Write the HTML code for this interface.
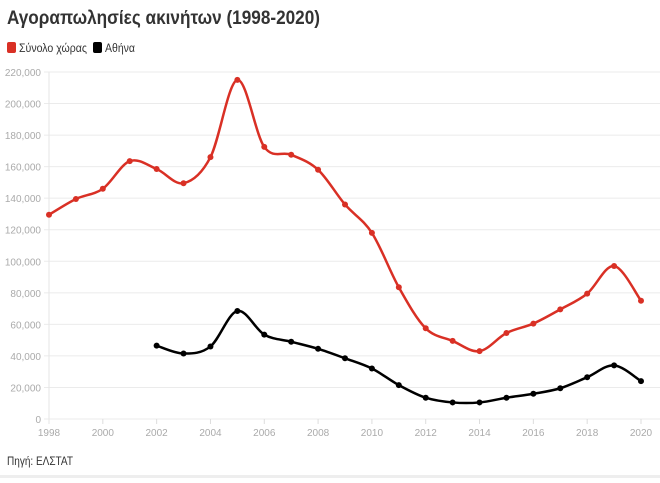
<!DOCTYPE html>
<html><head><meta charset="utf-8"><style>
body{margin:0;background:#fff;width:660px;height:478px;overflow:hidden;font-family:"Liberation Sans","DejaVu Sans",sans-serif}
</style></head><body>
<svg id="s" width="660" height="478" xmlns="http://www.w3.org/2000/svg" font-family="Liberation Sans, DejaVu Sans, sans-serif">
<text x="7" y="24" font-size="19" font-weight="bold" fill="#333" textLength="313" lengthAdjust="spacingAndGlyphs">Αγοραπωλησίες ακινήτων (1998-2020)</text>
<rect x="7" y="42" width="9" height="11" rx="2" fill="#d93025"/>
<text x="19" y="52" font-size="12" fill="#333" textLength="68" lengthAdjust="spacingAndGlyphs">Σύνολο χώρας</text>
<rect x="93" y="42" width="9" height="11" rx="2" fill="#000"/>
<text x="105" y="52" font-size="12" fill="#333" textLength="30" lengthAdjust="spacingAndGlyphs">Αθήνα</text>
<g id="grid"></g>
<line x1="49" y1="72" x2="49" y2="424" stroke="#e6e6e6"/>
<g id="series"></g>
<text x="7" y="465" font-size="12" fill="#333" textLength="66" lengthAdjust="spacingAndGlyphs">Πηγή: ΕΛΣΤΑΤ</text>
<rect x="0" y="475" width="660" height="3" fill="#eee"/>
</svg>
<script>
var ns="http://www.w3.org/2000/svg",g=document.getElementById('grid'),se=document.getElementById('series');
function X(y){return 49+(y-1998)*592/22}function Y(v){return 419-v*347/220000}
function el(t,a,p,txt){var e=document.createElementNS(ns,t);for(var k in a)e.setAttribute(k,a[k]);if(txt)e.textContent=txt;p.appendChild(e);return e}
for(var v=0;v<=220000;v+=20000){var y=Y(v);el('line',{x1:44,x2:660,y1:y,y2:y,stroke:'#ebebeb'},g);el('text',{x:41,y:y+4,'font-size':10,fill:'#aaa','text-anchor':'end'},g,v.toLocaleString('en-US'));}
for(var yr=1998;yr<=2020;yr+=2){el('line',{x1:X(yr),x2:X(yr),y1:419,y2:424,stroke:'#ddd'},g);el('text',{x:X(yr),y:436,'font-size':10,fill:'#aaa','text-anchor':'middle'},g,yr);}
var red=[129.5,139.5,146,163.5,158.5,149.5,166,215,172.5,167.5,158,136,118,83.5,57.5,49.5,43,54.5,60.5,69.5,79.5,97,75];
var blk=[46.5,41.5,46,68.5,53.5,49,44.5,38.5,32,21.5,13.5,10.5,10.5,13.5,16,19.5,26.5,34,24];
function draw(d,start,c){var p=d.map(function(v,i){return[X(start+i),Y(v*1000)]});
var s='M'+p[0][0]+','+p[0][1];for(var i=0;i<p.length-1;i++){var p0=p[i-1]||p[i],p1=p[i],p2=p[i+1],p3=p[i+2]||p2;
s+='C'+(p1[0]+(p2[0]-p0[0])/6)+','+(p1[1]+(p2[1]-p0[1])/6)+' '+(p2[0]-(p3[0]-p1[0])/6)+','+(p2[1]-(p3[1]-p1[1])/6)+' '+p2[0]+','+p2[1];}
el('path',{d:s,fill:'none',stroke:c,'stroke-width':2.5},se);p.forEach(function(q){el('circle',{cx:q[0],cy:q[1],r:3,fill:c},se)});}
draw(red,1998,'#d93025');draw(blk,2002,'#000');
</script>
</body></html>
